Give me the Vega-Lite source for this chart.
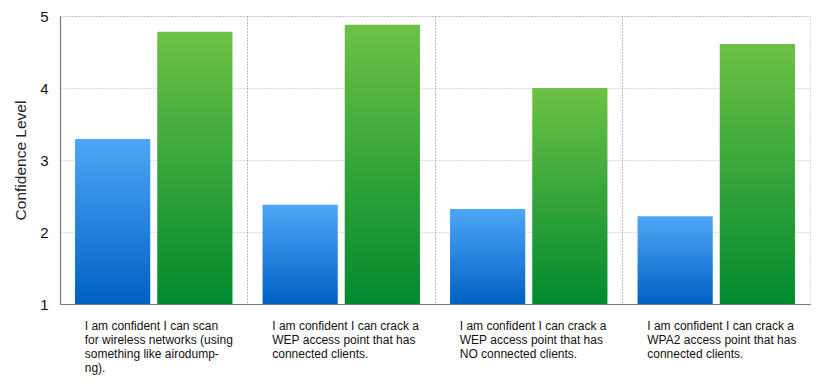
{
  "$schema": "https://vega.github.io/schema/vega-lite/v6.json",
  "width": 750,
  "height": 288,
  "autosize": {"type": "none"},
  "padding": {"left": 60, "top": 16, "right": 17, "bottom": 81},
  "background": "white",
  "config": {
    "font": "Liberation Sans",
    "view": {"stroke": "#b0b0b0", "strokeDash": [1, 2], "strokeWidth": 1}
  },
  "data": {
    "values": [
      {"cat": "I am confident I can scan|for wireless networks (using|something like airodump-|ng).", "series": "A", "value": 3.29},
      {"cat": "I am confident I can scan|for wireless networks (using|something like airodump-|ng).", "series": "B", "value": 4.78},
      {"cat": "I am confident I can crack a|WEP access point that has|connected clients.", "series": "A", "value": 2.38},
      {"cat": "I am confident I can crack a|WEP access point that has|connected clients.", "series": "B", "value": 4.88},
      {"cat": "I am confident I can crack a|WEP access point that has|NO connected clients.", "series": "A", "value": 2.32},
      {"cat": "I am confident I can crack a|WEP access point that has|NO connected clients.", "series": "B", "value": 4.0},
      {"cat": "I am confident I can crack a|WPA2 access point that has|connected clients.", "series": "A", "value": 2.22},
      {"cat": "I am confident I can crack a|WPA2 access point that has|connected clients.", "series": "B", "value": 4.61}
    ]
  },
  "encoding": {
    "x": {
      "field": "cat",
      "type": "nominal",
      "sort": null,
      "scale": {"paddingInner": 0, "paddingOuter": 0},
      "axis": {
        "title": null,
        "labelAngle": 0,
        "labelAlign": "left",
        "labelBaseline": "top",
        "labelOffset": -69,
        "labelPadding": 16,
        "labelFontSize": 12,
        "labelColor": "#111",
        "labelLineHeight": 14.3,
        "labelExpr": "split(datum.label, '|')",
        "labelLimit": 300,
        "ticks": false,
        "domainColor": "#777",
        "domainWidth": 1.2,
        "grid": true,
        "bandPosition": 0,
        "gridColor": "#7a7a7a",
        "gridDash": [1, 2],
        "gridWidth": 1
      }
    },
    "xOffset": {
      "field": "series",
      "type": "nominal",
      "scale": {"paddingInner": 0.085, "paddingOuter": 0.183}
    },
    "y": {
      "field": "value",
      "type": "quantitative",
      "scale": {"domain": [1, 5], "nice": false, "zero": false},
      "axis": {
        "title": "Confidence Level",
        "titleFontSize": 15.5,
        "titleFontWeight": "normal",
        "titleColor": "#222",
        "titlePadding": 11,
        "values": [1, 2, 3, 4, 5],
        "labelFontSize": 15,
        "labelColor": "#111",
        "labelPadding": 12,
        "ticks": false,
        "domainColor": "#777",
        "domainWidth": 1.2,
        "gridColor": "#b8b8b8",
        "gridDash": [1, 2],
        "gridWidth": 1
      }
    }
  },
  "layer": [
    {
      "transform": [{"filter": "datum.series === 'A'"}],
      "mark": {
        "type": "bar",
        "color": {
          "gradient": "linear", "x1": 0, "y1": 0, "x2": 0, "y2": 1,
          "stops": [{"offset": 0, "color": "#4ea6f6"}, {"offset": 1, "color": "#0061c4"}]
        }
      },
      "encoding": {"y2": {"datum": 1}}
    },
    {
      "transform": [{"filter": "datum.series === 'B'"}],
      "mark": {
        "type": "bar",
        "color": {
          "gradient": "linear", "x1": 0, "y1": 0, "x2": 0, "y2": 1,
          "stops": [{"offset": 0, "color": "#6dc145"}, {"offset": 1, "color": "#008a2f"}]
        }
      },
      "encoding": {"y2": {"datum": 1}}
    }
  ]
}
